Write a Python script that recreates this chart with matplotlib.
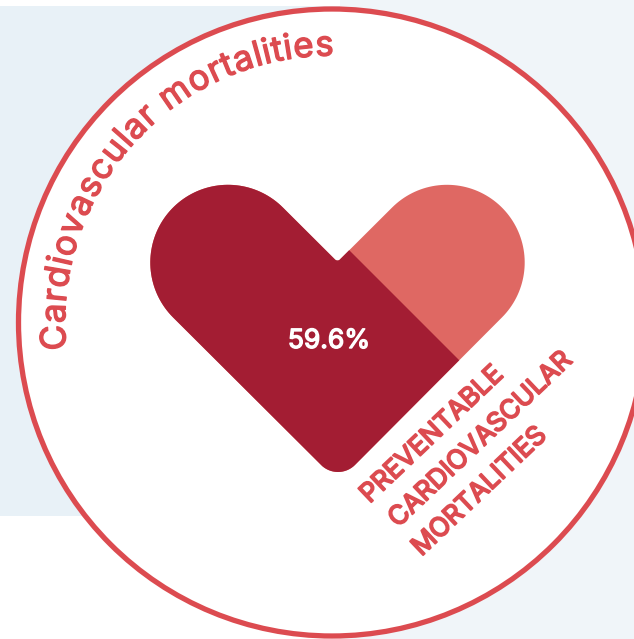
import numpy as np
import matplotlib
matplotlib.use("Agg")
import matplotlib.pyplot as plt
import matplotlib.patheffects as pe
from matplotlib.patches import Circle, PathPatch, Rectangle, Polygon
from matplotlib.path import Path
from matplotlib.textpath import TextPath
from matplotlib.font_manager import FontProperties

title = "Cardiovascular mortalities"
label_lines = ["PREVENTABLE", "CARDIOVASCULAR", "MORTALITIES"]
share_pct = 59.6

W, H = 634, 639
DARK, LIGHT, RED = "#A31D33", "#DF6863", "#DC4B50"
FONT = "Inter"

fig = plt.figure(figsize=(W / 100, H / 100), dpi=100)
ax = fig.add_axes([0, 0, 1, 1])
ax.set_xlim(0, W)
ax.set_ylim(H, 0)
ax.axis("off")

ax.add_patch(Rectangle((0, 6), 340, 510, fc="#E8F1F7", ec="none", zorder=0))
ax.add_patch(Rectangle((340, 0), W - 340, H, fc="#F0F5F9", ec="none", zorder=0))

cx, cy, R = 332, 322.5, 313.5
ax.add_patch(Circle((cx, cy), R, fc="white", ec=RED, lw=3.8, zorder=1))


def arc(x, y, r, a0, a1, n=80):
    t = np.radians(np.linspace(a0, a1, n))
    return np.column_stack([x + r * np.cos(t), y + r * np.sin(t)])


r = 77.7
outline = np.vstack([
    arc(228, 262.5, r, -45, -225),
    arc(338, 448, 24, 135, 45),
    arc(447, 262.5, r, 45, -135),
    arc(337.5, 257, 3.5, 45, 135),
])
outline = np.vstack([outline, outline[:1]])
heart = PathPatch(Path(outline), fc=LIGHT, ec="none", zorder=2)
ax.add_patch(heart)
split = 99  # x - y of the dark/light boundary
dark = Polygon([(split - 2000, -2000), (split + 2000, 2000), (-2000, 2000)],
               fc=DARK, ec="none", zorder=3)
ax.add_patch(dark)
dark.set_clip_path(heart)

ax.text(329, 338, f"{share_pct}%", color="white", fontsize=19, family=FONT,
        ha="center", va="center_baseline", zorder=4,
        path_effects=[pe.withStroke(linewidth=1.0, foreground="white")])

# curved title
fs = 25
fp = FontProperties(family=FONT, size=fs)
def adv(s):
    s2 = s + "|"
    return TextPath((0, 0), s2, prop=fp).get_extents().x1 - TextPath((0, 0), "|", prop=fp).get_extents().x1
total = adv(title)
rb = 267
a0, a1 = 186.0, 89.5
px_per_unit = np.radians(a0 - a1) * rb / total
stroke = [pe.withStroke(linewidth=1.0, foreground=RED)]
for i, ch in enumerate(title):
    if ch == " ":
        continue
    mid = (adv(title[:i]) + adv(title[:i + 1])) / 2
    ang = a0 - np.degrees(mid * px_per_unit / rb)
    x = cx + rb * np.cos(np.radians(ang))
    y = cy - rb * np.sin(np.radians(ang))
    ax.text(x, y, ch, color=RED, fontproperties=fp, rotation=ang - 90,
            rotation_mode="anchor", ha="center", va="baseline", zorder=4,
            path_effects=stroke)

# rotated label
centers = [(432, 435), (480.5, 440), (479.5, 492)]
for s, (x, y) in zip(label_lines, centers):
    ax.text(x, y, s, color=RED, fontsize=18.9, family=FONT, rotation=43.5,
            rotation_mode="anchor", ha="center", va="center", zorder=4,
            path_effects=[pe.withStroke(linewidth=1.3, foreground=RED)])

fig.savefig("out.png", dpi=100, facecolor="white")
